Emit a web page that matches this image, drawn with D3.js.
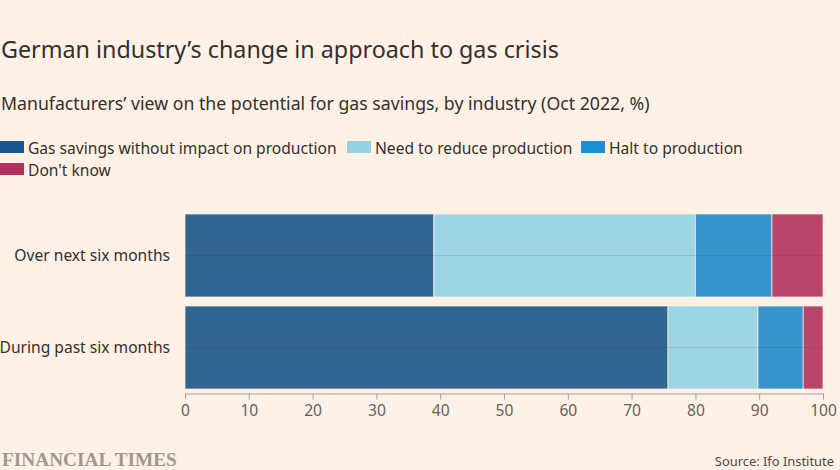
<!DOCTYPE html>
<html><head><meta charset="utf-8">
<script src="https://cdn.jsdelivr.net/npm/d3@7"></script>
<style>
body{margin:0;background:#fff1e5;}
svg{display:block;font-family:"Noto Sans",sans-serif;}
</style></head>
<body>
<svg id="c" width="840" height="470"></svg>
<script>
const categories = ["Over next six months", "During past six months"];
const seriesNames = ["Gas savings without impact on production", "Need to reduce production", "Halt to production", "Don't know"];
const savings = [39, 75.7];
const reduce = [41, 14.1];
const halt = [12, 7.1];
const dontKnow = [8, 3.1];
const xTicks = [0, 10, 20, 30, 40, 50, 60, 70, 80, 90, 100];
const barColors = ["#336592", "#9dd5e4", "#3595cc", "#b9466a"];
const legendColors = ["#1d5591", "#96d2e6", "#1e8fce", "#b42f5e"];

const svg = d3.select("#c");
svg.append("rect").attr("width", 840).attr("height", 470).attr("fill", "#fff1e5");

svg.append("text").attr("x", 1).attr("y", 58).attr("font-size", 23.3).attr("fill", "#33302e").text("German industry\u2019s change in approach to gas crisis");
svg.append("text").attr("x", 1).attr("y", 110).attr("font-size", 17.7).attr("fill", "#33302e").text("Manufacturers\u2019 view on the potential for gas savings, by industry (Oct 2022, %)");

// legend
const legendPos = [[0, 141], [347, 141], [581, 141], [0, 163]];
seriesNames.forEach((n, i) => {
  const g = svg.append("g").attr("transform", `translate(${legendPos[i][0]},${legendPos[i][1]})`);
  g.append("rect").attr("width", 24).attr("height", 12).attr("fill", legendColors[i]);
  g.append("text").attr("x", 28).attr("y", 12.5).attr("font-size", 15.6).attr("fill", "#33302e").text(n);
});

const x = d3.scaleLinear().domain([0, 100]).range([185, 823]);
const y = d3.scaleBand().domain(categories).range([214, 389]).paddingInner(0.098).paddingOuter(0);

const rows = categories.map((c, i) => ({cat: c, savings: savings[i], reduce: reduce[i], halt: halt[i], dontKnow: dontKnow[i]}));
const stack = d3.stack().keys(["savings", "reduce", "halt", "dontKnow"])(rows);

stack.forEach((s, i) => {
  svg.append("g").selectAll("rect").data(s).join("rect")
    .attr("x", d => x(d[0]))
    .attr("width", d => x(d[1]) - x(d[0]))
    .attr("y", d => y(d.data.cat))
    .attr("height", y.bandwidth())
    .attr("fill", barColors[i])
    .attr("stroke", "#fff1e5").attr("stroke-width", 1).attr("stroke-opacity", 0.7);
});

// category center lines
svg.append("g").selectAll("line").data(categories).join("line")
  .attr("x1", x(0)).attr("x2", x(100))
  .attr("y1", d => y(d) + y.bandwidth() / 2).attr("y2", d => y(d) + y.bandwidth() / 2)
  .attr("stroke", "#33302e").attr("stroke-opacity", 0.12).attr("stroke-width", 1);

// y labels
svg.append("g").selectAll("text").data(categories).join("text")
  .attr("x", 170).attr("y", d => y(d) + y.bandwidth() / 2 + 5.5)
  .attr("text-anchor", "end").attr("font-size", 15.6).attr("fill", "#33302e").text(d => d);

// x axis
const xa = svg.append("g").attr("transform", "translate(0,393.5)")
  .call(d3.axisBottom(x).tickValues(xTicks).tickSize(6).tickSizeOuter(0).tickPadding(5));
xa.select(".domain").attr("stroke", "#a69f98");
xa.selectAll(".tick line").attr("stroke", "#a69f98");
xa.selectAll(".tick text").attr("font-size", 15.6).attr("fill", "#66605c").attr("font-family", "Noto Sans");

svg.append("text").attr("x", 2).attr("y", 466).attr("font-family", "Liberation Serif, serif").attr("font-weight", "bold")
  .attr("font-size", 19.3).attr("fill", "#a0978f").text("FINANCIAL TIMES");
svg.append("text").attr("x", 834).attr("y", 466).attr("text-anchor", "end").attr("font-size", 12.9).attr("fill", "#4d4845").text("Source: Ifo Institute");
</script>
</body></html>
